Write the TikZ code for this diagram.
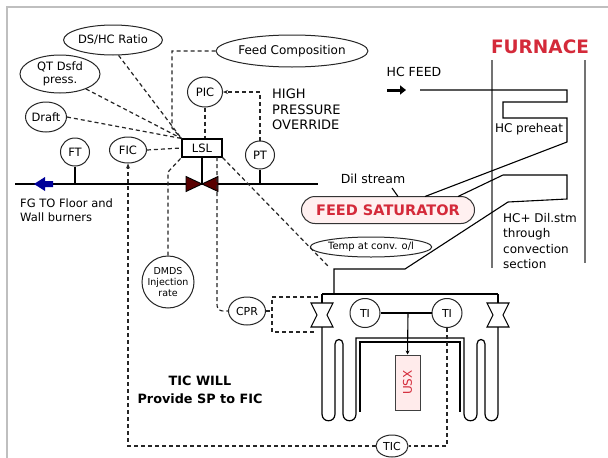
\documentclass[tikz,border=0pt]{standalone}
\usepackage{fontspec}
\setmainfont{DejaVu Sans}
\usetikzlibrary{shapes.geometric,arrows.meta}
\definecolor{furn}{HTML}{D42A3A}
\begin{document}
\begin{tikzpicture}[x=1pt,y=-1pt,
  inst/.style={draw=black!85,line width=1pt,ellipse,inner sep=0pt,align=center,font=\fontsize{11.5}{13}\selectfont},
  dsh/.style={draw=black!85,line width=1.2pt,dash pattern=on 4pt off 3pt},
  pipe/.style={draw=black,line width=1.1pt},
  wall/.style={draw=black!55,line width=1.8pt},
  txt/.style={inner sep=0pt,align=left}]
\fill[white] (0,0) rectangle (608,458);
\useasboundingbox (0,0) rectangle (608,458);
\draw[black!25,line width=1.5pt] (7,458) -- (7,7) -- (608,7);

% ---------- instrument nodes ----------
\node[inst,minimum width=83pt,minimum height=30pt] (dshc) at (113,40) {DS/HC Ratio};
\node[inst,minimum width=80pt,minimum height=38pt] (qt) at (60,74) {QT Dsfd\\press.};
\node[inst,minimum width=36pt,minimum height=30pt] (draft) at (46,117) {Draft};
\node[inst,minimum width=29pt,minimum height=28pt] (ft) at (75,152) {FT};
\node[inst,minimum width=37pt,minimum height=26pt] (fic) at (128,150) {FIC};
\node[draw=black,line width=1.1pt,minimum width=40pt,minimum height=18pt,inner sep=0pt,font=\fontsize{11.5}{13}\selectfont] (lsl) at (202,148) {LSL};
\node[inst,minimum width=35pt,minimum height=30pt] (pic) at (205,92) {PIC};
\node[inst,minimum width=29pt,minimum height=28pt] (pt) at (260,155) {PT};
\node[inst,minimum width=145pt,minimum height=32pt,font=\fontsize{12}{14}\selectfont] (feed) at (292,51) {Feed Composition};
\node[inst,circle,minimum size=52pt,font=\fontsize{9.5}{11}\selectfont] (dmds) at (168,282) {DMDS\\Injection\\rate};
\node[inst,minimum width=37pt,minimum height=28pt,font=\fontsize{11}{13}\selectfont] (cpr) at (247,311) {CPR};
\node[inst,minimum width=30pt,minimum height=29pt,font=\fontsize{11}{13}\selectfont] (ti1) at (365,313) {TI};
\node[inst,minimum width=30pt,minimum height=29pt,font=\fontsize{11}{13}\selectfont] (ti2) at (447,313) {TI};
\node[inst,minimum width=32pt,minimum height=22pt,font=\fontsize{11}{13}\selectfont] (tic) at (392,446) {TIC};
\node[inst,minimum width=104pt,minimum height=20pt,font=\fontsize{10}{12}\selectfont] (tempe) at (371,247) {Temp at conv. o/l};
\node[draw=black!80,fill=red!6,line width=1pt,rounded corners=13.5pt,minimum width=173pt,minimum height=27pt,inner sep=0pt,text=furn,font=\bfseries\fontsize{14.5}{16}\selectfont] (sat) at (388,210) {FEED SATURATOR};
\node[draw=black!75,fill=red!8,line width=1pt,minimum width=25pt,minimum height=55pt,inner sep=0pt] (usx) at (407.5,382.5) {};
\node[rotate=90,text=furn,inner sep=0pt,font=\fontsize{12}{14}\selectfont] (usxt) at (usx.center) {USX};

% ---------- texts ----------
\node[text=furn,inner sep=0pt,font=\bfseries\fontsize{18.5}{20}\selectfont] (furnace) at (540,47) {FURNACE};
\node[inner sep=0pt,font=\fontsize{12.5}{14}\selectfont] (hcfeed) at (414,72) {HC FEED};
\node[inner sep=0pt,font=\fontsize{12}{14}\selectfont] (hcpre) at (529,129) {HC preheat};
\node[inner sep=0pt,font=\fontsize{12.5}{14}\selectfont] (dil) at (373,179) {Dil stream};
\node[txt,anchor=north west,font=\fontsize{12}{15.5}\selectfont] (hcdil) at (503,213) {HC+ Dil.stm\\through\\convection\\section};
\node[txt,anchor=north west,font=\fontsize{13}{15.5}\selectfont] (hpo) at (272,89) {HIGH\\PRESSURE\\OVERRIDE};
\node[txt,anchor=north west,font=\fontsize{11.5}{14}\selectfont] (fg) at (20,199) {FG TO Floor and\\Wall burners};
\node[inner sep=0pt,align=center,font=\bfseries\fontsize{12.8}{18}\selectfont] (ticwill) at (200,390) {TIC WILL\\Provide SP to FIC};

% ---------- coordinates ----------
\coordinate (mL) at (15,184);
\coordinate (mR) at (318,184);
\coordinate (vc) at (202,184);
\coordinate (hcin) at (420,90);
\coordinate (vlt) at (322,303);
\coordinate (vlb) at (322,327);
\coordinate (vrt) at (498,303);
\coordinate (vrb) at (498,327);
\coordinate (jn) at (334,294);
\coordinate (tij) at (408,313);
\coordinate (lslb) at (217,157);
\coordinate (dg) at (328,266);

% ---------- furnace walls ----------
\draw[wall] (492,60) -- (492,268);
\draw[wall] (585,60) -- (585,263);

% ---------- main fuel gas line ----------
\draw[line width=2.8pt] (mL) -- (mR);
\fill[blue!60!black] (34,184) -- (45,177) -- (45,181) -- (53,181) -- (53,187) -- (45,187) -- (45,191) -- cycle;
\draw[pipe] (lsl.south) -- (vc);
\draw[pipe] (ft.south) -- (ft.south |- mL);
\draw[pipe] (pt.south) -- (pt.south |- mL);
\draw[black,line width=0.9pt,fill=red!35!black] (186,176.5) -- (186,191.5) -- (vc) -- cycle;
\draw[black,line width=0.9pt,fill=red!35!black] (218,176.5) -- (218,191.5) -- (vc) -- cycle;

% ---------- HC feed and convection coils ----------
\draw[line width=3pt,-{Triangle[length=6pt,width=9pt]}] (387,90) -- (406,90);
\draw[pipe] (hcin) -- (567,90) -- (567,102) -- (503,102) -- (503,118) -- (567,118) -- (567,142) -- (425,196.5);
\draw[pipe] (458,196.5) -- (503,175) -- (567,175) -- (567,199) -- (508,202) -- (405,269) -- (334,269) -- (jn);
\draw[pipe] (392,188) -- (398,196.5);

% ---------- radiant section ----------
\draw[pipe] (322,294) -- (498,294);
\draw[pipe] (322,294) -- (vlt);
\draw[pipe] (498,294) -- (vrt);
\draw[black,line width=1.1pt,fill=white] (311,303) -- (333,303) -- (327,315) -- (333,327) -- (311,327) -- (317,315) -- cycle;
\draw[black,line width=1.1pt,fill=white] (487,303) -- (509,303) -- (503,315) -- (509,327) -- (487,327) -- (493,315) -- cycle;
\draw[pipe,line width=1.2pt] (vlb) -- (322,414) .. controls (322,423) and (335,423) .. (335,414) -- (335,344) .. controls (335,338) and (343,338) .. (343,344) -- (343,414) .. controls (343,423) and (356,423) .. (356,414) -- (356,338) -- (464,338) -- (464,414) .. controls (464,423) and (477,423) .. (477,414) -- (477,344) .. controls (477,338) and (485,338) .. (485,344) -- (485,414) .. controls (485,423) and (498,423) .. (498,414) -- (vrb);
\draw[pipe] (360,412) -- (360,342) -- (460,342) -- (460,412);
\draw[pipe] (ti1.east) -- (ti2.west);
\draw[pipe,-{Stealth[length=4pt,width=4pt]}] (tij) -- (usx.north);

% ---------- signal lines ----------
\draw[dsh] (feed.west) -- (172,51) -- (172,128) -- (lsl.north west);
\draw[dsh] (dshc.-70) -- (lsl.north west);
\draw[dsh] (qt.-30) -- (lsl.north west);
\draw[dsh] (draft.east) -- (lsl.north west);
\draw[dsh] (fic.east) -- (lsl.west);
\draw[dsh] (pic.south) -- (pic.south |- lsl.north);
\draw[dsh,-{Stealth[length=5pt,width=4pt]}] (pt.north) -- (pt.north |- pic.east) -- (pic.east);
\draw[dsh] (dmds.north) -- (168,172) -- (lsl.south west);
\draw[dsh] (lslb) -- (217,300) .. controls (217,311) .. (cpr.west);
\draw[dsh] (lsl.south east) -- (dg);
\draw[dsh] (cpr.east) -- (272,311);
\draw[dsh] (318,297) -- (272,297) -- (272,332) -- (314,332);
\draw[dsh,-{Stealth[length=5pt,width=4pt]}] (tic.west) -- (tic.west -| fic.south) -- (fic.south);
\draw[dsh] (ti2.south) -- (ti2.south |- tic.east) -- (tic.east);
\end{tikzpicture}
\end{document}
